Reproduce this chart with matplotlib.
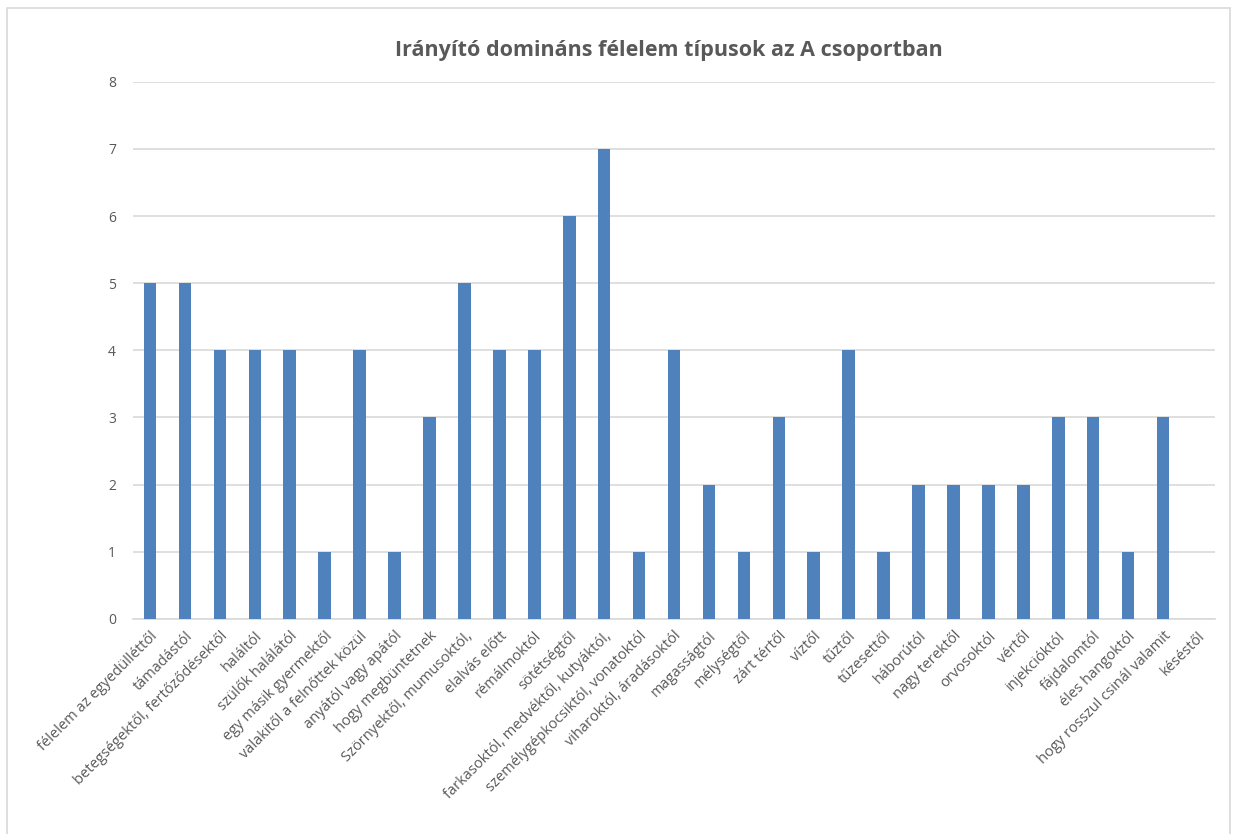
import matplotlib.pyplot as plt
from matplotlib.patches import Rectangle

# ---------- Data ---------- #
categories = [
    'félelem az egyedülléttől', 'támadástól',
    'betegségektől, fertőződésektől', 'haláltól', 'szülők halálától',
    'egy másik gyermektől', 'valakitől a felnőttek közül',
    'anyától vagy apától', 'hogy megbüntetnek', 'Szörnyektől, mumusoktól,',
    'elalvás előtt', 'rémálmoktól', 'sötétségtől',
    'farkasoktól, medvéktől, kutyáktól,',
    'személygépkocsiktól, vonatoktól', 'viharoktól, áradásoktól',
    'magasságtól', 'mélységtől', 'zárt tértől', 'víztől', 'tűztől',
    'tűzesettől', 'háborútól', 'nagy terektől', 'orvosoktól', 'vértől',
    'injekcióktól', 'fájdalomtól', 'éles hangoktól',
    'hogy rosszul csinál valamit', 'késéstől',
]
values = [5, 5, 4, 4, 4, 1, 4, 1, 3, 5, 4, 4, 6, 7, 1, 4,
          2, 1, 3, 1, 4, 1, 2, 2, 2, 2, 3, 3, 1, 3, 0]
y_ticks = list(range(0, 9))

plt.rcParams['font.family'] = ['Open Sans', 'DejaVu Sans']
text_color = '#595959'

fig = plt.figure(figsize=(12.39, 8.34), dpi=100)
ax = fig.add_axes([0.107, 0.258, 0.874, 0.644])

# ---------- Bars ---------- #
x = list(range(len(categories)))
ax.bar(x, values, width=0.36, color='#4f81bd', zorder=3)

ax.set_xlim(-0.5, len(categories) - 0.5)
ax.set_ylim(0, 8)
ax.set_yticks(y_ticks)
ax.yaxis.grid(True, color='#d9d9d9', linewidth=1.2, zorder=0)
ax.tick_params(axis='y', length=0, pad=12, labelsize=10, colors=text_color)
ax.tick_params(axis='x', length=0, pad=7)
ax.set_xticks(x)
ax.set_xticklabels(categories, rotation=45, ha='right',
                   rotation_mode='anchor', fontsize=10.5, color=text_color)
for side in ['top', 'right', 'left']:
    ax.spines[side].set_visible(False)
ax.spines['bottom'].set_color('#d9d9d9')
ax.spines['bottom'].set_linewidth(1.2)

fig.text(0.54, 0.94, 'Irányító domináns félelem típusok az A csoportban',
         ha='center', va='center', fontsize=15.5, fontweight='bold',
         color=text_color)

# ---------- Chart area frame ---------- #
fig.patches.append(Rectangle((0.006, -0.01), 0.987, 1.0, transform=fig.transFigure,
                             fill=False, edgecolor='#d9d9d9', linewidth=1.2))

fig.savefig('out.png', dpi=100)
